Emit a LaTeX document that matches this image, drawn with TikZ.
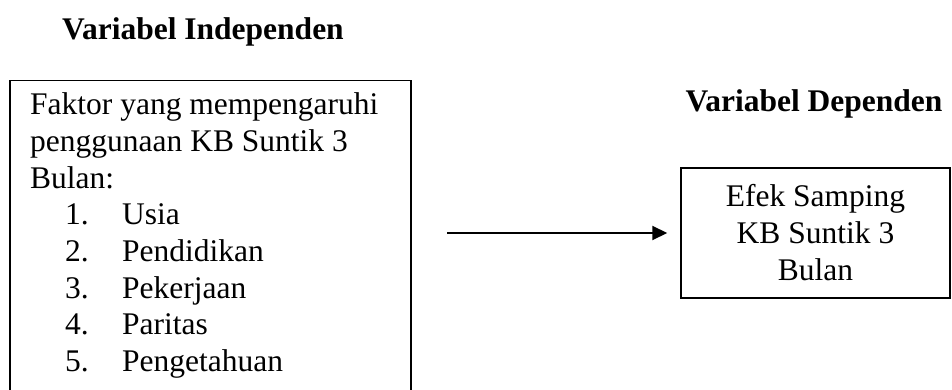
\documentclass[tikz,border=0pt]{standalone}
\usepackage{fontspec}
\setmainfont{Liberation Serif}
\usetikzlibrary{arrows.meta}
\begin{document}
\begin{tikzpicture}[x=1pt,y=-1pt,
  every node/.style={font=\fontsize{31.5}{34}\selectfont, inner sep=0pt},
  head/.style={font=\fontsize{31.5}{34}\selectfont\bfseries},
  boxframe/.style={draw, line width=1.5pt},
  ln/.style={anchor=base west},
  arr/.style={line width=2pt, -{Triangle[length=15pt,width=14pt]}}]
\useasboundingbox (0,0) rectangle (952,390);
\clip (0,0) rectangle (952,390);
\node[head] (hind) at (203,32) {Variabel Independen};
\node[head] (hdep) at (814,104) {Variabel Dependen};
\node[boxframe, anchor=north west, minimum width=401pt, minimum height=340pt] (indep) at (9,80) {};
\node[ln] (t1) at (30,115) {Faktor yang mempengaruhi};
\node[ln] (t2) at (30,151.6) {penggunaan KB Suntik 3};
\node[ln] (t3) at (30,188.2) {Bulan:};
\node[ln] (n1) at (65,224.8) {1.};
\node[ln] (i1) at (122,224.8) {Usia};
\node[ln] (n2) at (65,261.4) {2.};
\node[ln] (i2) at (122,261.4) {Pendidikan};
\node[ln] (n3) at (65,298) {3.};
\node[ln] (i3) at (122,298) {Pekerjaan};
\node[ln] (n4) at (65,334.6) {4.};
\node[ln] (i4) at (122,334.6) {Paritas};
\node[ln] (n5) at (65,371.2) {5.};
\node[ln] (i5) at (122,371.2) {Pengetahuan};
\node[boxframe, minimum width=269pt, minimum height=130pt, align=center,
  font=\fontsize{31.5}{37}\selectfont] (dep) at (815.5,233)
  {Efek Samping\\KB Suntik 3\\Bulan};
\coordinate (astart) at (447,233);
\draw[arr] (astart) -- ([xshift=-13pt]dep.west);
\end{tikzpicture}
\end{document}
